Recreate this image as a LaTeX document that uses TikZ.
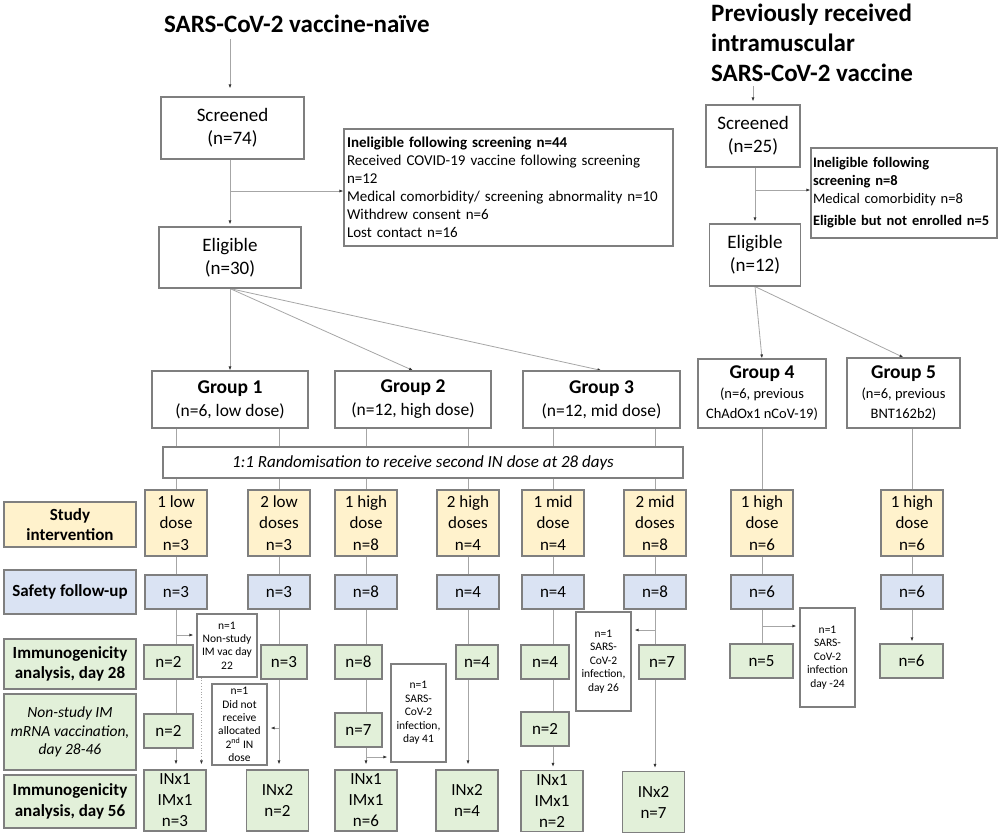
\documentclass[tikz,border=0pt]{standalone}
\usepackage{fontspec}
\setmainfont{Carlito}
\usetikzlibrary{arrows.meta,backgrounds}

\definecolor{boxline}{HTML}{7F7F7F}
\definecolor{linkgray}{HTML}{A6A6A6}
\definecolor{studyfill}{HTML}{FFF2CC}
\definecolor{safetyfill}{HTML}{DAE3F3}
\definecolor{immfill}{HTML}{E2F0D9}

\newcommand{\fsize}[2]{\fontsize{#1}{#2}\selectfont}

\begin{document}
\begin{tikzpicture}[x=1pt, y=-1pt, font=\fsize{17}{21.5},
  title/.style = {font=\fsize{25}{30}\bfseries, inner sep=0pt},
  box/.style = {draw=boxline, line width=1.1pt, fill=white, align=center, inner sep=2pt},
  main/.style = {box, font=\fsize{19}{23}},
  info/.style = {box, font=\fsize{15}{18}, align=left, inner sep=3pt},
  grp/.style = {box, font=\fsize{17.5}{23}, minimum height=57},
  rowlabel/.style = {box, minimum width=132, font=\fsize{17}{20.5}\bfseries},
  ybox/.style = {box, fill=studyfill, minimum width=62, minimum height=66},
  bbox/.style = {box, fill=safetyfill, minimum width=62, minimum height=34},
  gbox/.style = {box, fill=immfill, minimum height=34},
  fbox/.style = {box, fill=immfill, minimum width=62, minimum height=61, font=\fsize{17}{21}},
  note/.style = {box, font=\fsize{11.5}{13.4}, minimum width=55},
  link/.style = {draw=linkgray, line width=0.8pt},
  arr/.style = {link, -{Latex[length=4pt,width=3pt,color=black!80]}}]
\useasboundingbox (0,0) rectangle (1000,836);

% headings
\node[title] (naive) at (297,24) {SARS-CoV-2 vaccine-naïve};
\node[title, anchor=west, align=left] (prior) at (711,43) {Previously received\\intramuscular\\SARS-CoV-2 vaccine};

% screening
\node[main, minimum width=143, minimum height=62] (scrA) at (232.5,128) {Screened\\(n=74)};
\node[info, text width=323, minimum height=117] (inelA) at (508.5,187.5) {\textbf{Ineligible following screening n=44}\\Received COVID-19 vaccine following screening\\n=12\\Medical comorbidity/ screening abnormality n=10\\Withdrew consent n=6\\Lost contact n=16};
\node[main, minimum width=142, minimum height=61] (eligA) at (230,257.5) {Eligible\\(n=30)};
\node[main, minimum width=94, minimum height=62] (scrB) at (753,136) {Screened\\(n=25)};
\node[info, font=\fsize{14.5}{18}, text width=182, inner sep=2pt, minimum height=90] (inelB) at (904,193) {\textbf{Ineligible following}\\\textbf{screening n=8}\\Medical comorbidity n=8\\[4pt]\mbox{\textbf{Eligible but not enrolled n=5}}};
\node[main, minimum width=91, minimum height=62] (eligB) at (755,255) {Eligible\\(n=12)};

% groups
\node[grp, minimum width=156] (grp1) at (230,399.5) {{\bfseries\fsize{19.5}{23}Group 1}\\(n=6, low dose)};
\node[grp, minimum width=156] (grp2) at (413,399.5) {{\bfseries\fsize{19.5}{23}Group 2}\\(n=12, high dose)};
\node[grp, minimum width=157] (grp3) at (601.5,399.5) {{\bfseries\fsize{19.5}{23}Group 3}\\(n=12, mid dose)};
\node[grp, font=\fsize{14.5}{20}, minimum width=128, minimum height=69] (grp4) at (762,393.5) {{\bfseries\fsize{19.5}{23}Group 4}\\(n=6, previous\\ChAdOx1 nCoV-19)};
\node[grp, font=\fsize{14.5}{20}, minimum width=113, minimum height=70] (grp5) at (903.5,393) {{\bfseries\fsize{19.5}{23}Group 5}\\(n=6, previous\\BNT162b2)};
\node[box, font=\fsize{17}{21}\itshape, minimum width=520, minimum height=31] (rand) at (423,462.5) {1:1 Randomisation to receive second IN dose at 28 days};

% row labels
\node[rowlabel, fill=studyfill, minimum height=45] (lstudy) at (70,524.5) {Study\\intervention};
\node[rowlabel, fill=safetyfill, minimum height=44] (lsafe) at (70,592) {Safety follow-up};
\node[rowlabel, fill=immfill, minimum height=50] (limA) at (70,664) {Immunogenicity\\analysis, day 28};
\node[rowlabel, fill=immfill, minimum height=76, font=\fsize{15.5}{18.5}\itshape] (lmrna) at (70,732) {Non-study IM\\mRNA vaccination,\\day 28-46};
\node[rowlabel, fill=immfill, minimum height=53] (limB) at (70,801.5) {Immunogenicity\\analysis, day 56};

% study intervention
\node[ybox] (int1) at (176,523) {1 low\\dose\\n=3};
\node[ybox] (int2) at (279,523) {2 low\\doses\\n=3};
\node[ybox] (int3) at (366,523) {1 high\\dose\\n=8};
\node[ybox] (int4) at (468,523) {2 high\\doses\\n=4};
\node[ybox] (int5) at (553,523) {1 mid\\dose\\n=4};
\node[ybox] (int6) at (655,523) {2 mid\\doses\\n=8};
\node[ybox] (int7) at (762,523) {1 high\\dose\\n=6};
\node[ybox] (int8) at (912,523) {1 high\\dose\\n=6};

% safety follow-up
\node[bbox] (saf1) at (176,592) {n=3};
\node[bbox] (saf2) at (279,592) {n=3};
\node[bbox] (saf3) at (366,592) {n=8};
\node[bbox] (saf4) at (468,592) {n=4};
\node[bbox] (saf5) at (553,592) {n=4};
\node[bbox] (saf6) at (655,592) {n=8};
\node[bbox] (saf7) at (762,592) {n=6};
\node[bbox] (saf8) at (912,592) {n=6};

% immunogenicity day 28
\node[gbox, minimum width=49] (imA1) at (168.5,662) {n=2};
\node[gbox, minimum width=46] (imA2) at (284,662) {n=3};
\node[gbox, minimum width=47] (imA3) at (358.5,662) {n=8};
\node[gbox, minimum width=42] (imA4) at (477,662) {n=4};
\node[gbox, minimum width=48] (imA5) at (545,662) {n=4};
\node[gbox, minimum width=46] (imA6) at (662,662) {n=7};
\node[gbox, minimum width=63] (imA7) at (761.5,661) {n=5};
\node[gbox, minimum width=63] (imA8) at (911.5,661) {n=6};

% non-study mRNA
\node[gbox, minimum width=49] (mrna1) at (168.5,731) {n=2};
\node[gbox, minimum width=47] (mrna3) at (358.5,730) {n=7};
\node[gbox, minimum width=48] (mrna5) at (545,729) {n=2};

% immunogenicity day 56
\node[fbox] (imB1) at (175,800.5) {INx1\\IMx1\\n=3};
\node[fbox] (imB2) at (277.5,800.5) {INx2\\n=2};
\node[fbox] (imB3) at (366,800.5) {INx1\\IMx1\\n=6};
\node[fbox] (imB4) at (467,800.5) {INx2\\n=4};
\node[fbox] (imB5) at (552,801) {INx1\\IMx1\\n=2};
\node[fbox] (imB6) at (653.5,802) {INx2\\n=7};

% notes
\node[note, minimum width=60, minimum height=63] (note1) at (227,645.5) {n=1\\Non-study\\IM vac day\\22};
\node[note, minimum height=81] (note2) at (239.5,724.5) {n=1\\Did not\\receive\\allocated\\2\textsuperscript{nd} IN\\dose};
\node[note, minimum height=98] (note3) at (418.5,713) {n=1\\SARS-\\CoV-2\\infection,\\day 41};
\node[note, minimum height=99] (note4) at (603.5,661.5) {n=1\\SARS-\\CoV-2\\infection,\\day 26};
\node[note, minimum height=99] (note5) at (827.5,657.5) {n=1\\SARS-\\CoV-2\\infection\\day -24};

\coordinate (brA) at (230,191);
\coordinate (brB) at (755,190);
\coordinate (brN1) at (176,635);
\coordinate (brN2) at (279,728);
\coordinate (brN3) at (366,757);
\coordinate (brN4) at (655,630);
\coordinate (brN5) at (762,626);
\coordinate (dotN1) at ([xshift=5pt]note1.south west);

\begin{scope}[on background layer]
% screening flow
\draw[arr, shorten <=6pt, shorten >=8pt] (eligA.north |- naive.south) -- (eligA.north |- scrA.north);
\draw[arr, shorten >=2pt] (eligA.north |- scrA.south) -- (eligA.north);
\draw[arr] (brA) -- (brA -| inelA.west);
\draw[arr, shorten <=4pt, shorten >=3pt] (scrB.north |- prior.south) -- (scrB.north);
\draw[arr, shorten >=2pt] (eligB.north |- scrB.south) -- (eligB.north);
\draw[arr] (brB) -- (brB -| inelB.west);
% allocation
\draw[arr] (eligA.south) -- (grp1.north);
\draw[arr] (eligA.south) -- (grp2.north);
\draw[arr] (eligA.south) -- (grp3.north);
\draw[arr] (eligB.south) -- (grp4.north);
\draw[arr] (eligB.south) -- (grp5.north);
% groups to interventions
\draw[link] (int1.north |- grp1.south) -- (int1.north);
\draw[link] (int2.north |- grp1.south) -- (int2.north);
\draw[link] (int3.north |- grp2.south) -- (int3.north);
\draw[link] (int4.north |- grp2.south) -- (int4.north);
\draw[link] (int5.north |- grp3.south) -- (int5.north);
\draw[link] (int6.north |- grp3.south) -- (int6.north);
\draw[link] (int7.north |- grp4.south) -- (int7.north);
\draw[link] (int8.north |- grp5.south) -- (int8.north);
% interventions to safety
\draw[link] (int1.south) -- (saf1.north);
\draw[link] (int2.south) -- (saf2.north);
\draw[link] (int3.south) -- (saf3.north);
\draw[link] (int4.south) -- (saf4.north);
\draw[link] (int5.south) -- (saf5.north);
\draw[link] (int6.south) -- (saf6.north);
\draw[link] (int7.south) -- (saf7.north);
\draw[link] (int8.south) -- (saf8.north);
% follow-up columns
\draw[arr, shorten >=5pt] (saf1.south) -- (saf1.south |- imB1.north);
\draw[arr, shorten >=5pt] (saf2.south) -- (saf2.south |- imB2.north);
\draw[arr, shorten >=5pt] (saf3.south) -- (saf3.south |- imB3.north);
\draw[arr, shorten >=5pt] (saf4.south) -- (saf4.south |- imB4.north);
\draw[arr, shorten >=3pt] (saf5.south) -- (saf5.south |- imB5.north);
\draw[arr, shorten >=3pt] (saf6.south) -- (saf6.south |- imB6.north);
\draw[link] (saf7.south) -- (saf7.south |- imA7.north);
\draw[arr, shorten >=2pt] (saf8.south) -- (saf8.south |- imA8.north);
% notes
\draw[arr, shorten >=3pt] (brN1) -- (brN1 -| note1.west);
\draw[arr, dotted, shorten >=5pt] (dotN1) -- (dotN1 |- imB1.north);
\draw[arr, shorten >=3pt] (brN2) -- (brN2 -| note2.east);
\draw[arr, shorten >=3pt] (brN3) -- (brN3 -| note3.west);
\draw[arr, shorten >=3pt] (brN4) -- (brN4 -| note4.east);
\draw[arr, shorten >=3pt] (brN5) -- (brN5 -| note5.west);
\end{scope}
\end{tikzpicture}
\end{document}
